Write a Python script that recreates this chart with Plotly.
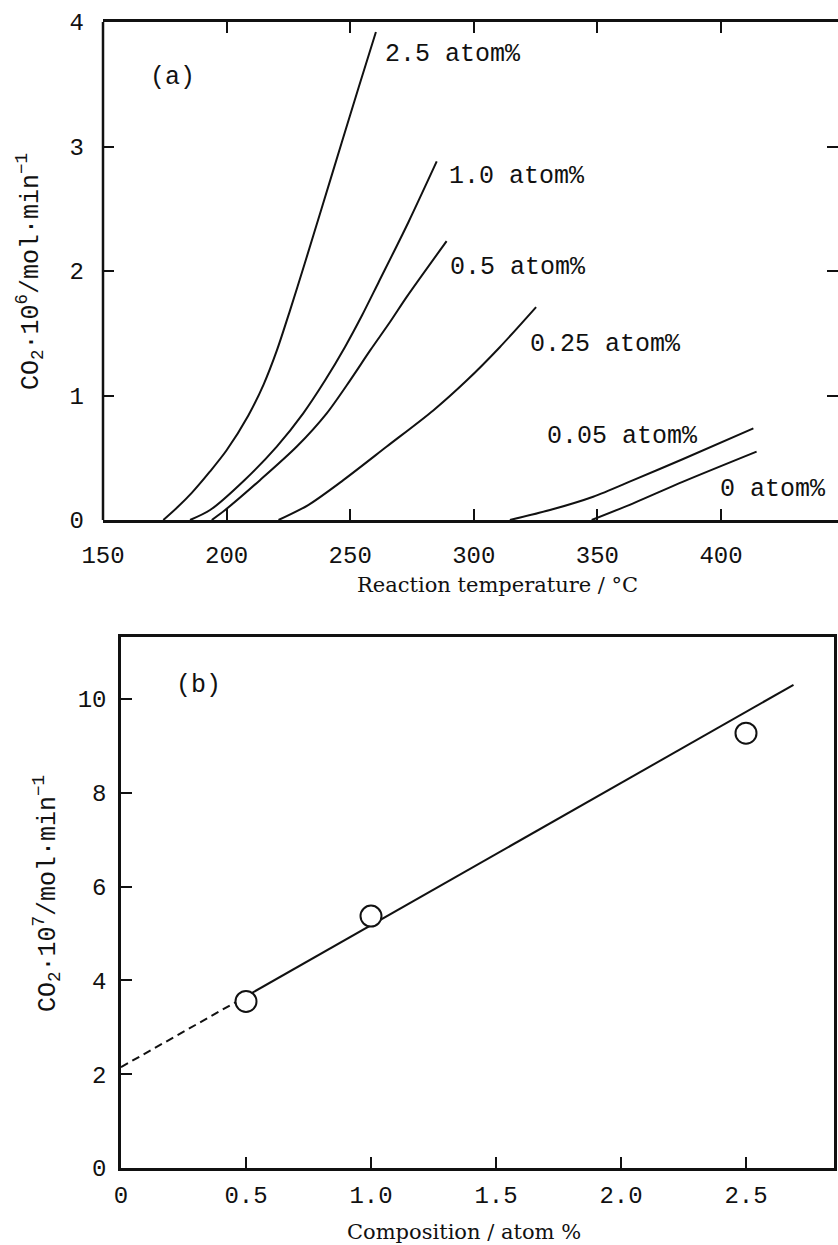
import plotly.graph_objects as go

# ---------------- (a) CO2 formation vs reaction temperature ----------------
temp_25 = [174.4, 180, 186, 193.3, 200, 208.8, 215, 220.3, 225.6, 231.6, 238.4, 246.7, 253.5, 260.4]
co2_25 = [0, 0.10, 0.22, 0.39, 0.56, 0.84, 1.09, 1.36, 1.68, 2.06, 2.50, 3.04, 3.48, 3.92]

temp_10 = [185.2, 193.3, 207.2, 220.3, 231.0, 239.8, 247.9, 254.7, 261.5, 273.5, 285.0]
co2_10 = [0, 0.08, 0.32, 0.59, 0.857, 1.12, 1.39, 1.64, 1.91, 2.39, 2.88]

temp_05 = [194.0, 199.4, 213.5, 228.4, 240.5, 249.9, 258.0, 266.1, 272.8, 289.0]
co2_05 = [0, 0.08, 0.32, 0.59, 0.857, 1.12, 1.36, 1.59, 1.79, 2.24]

temp_025 = [221.0, 233.0, 247.2, 264.8, 283.6, 297.1, 310.6, 325.2]
co2_025 = [0, 0.12, 0.32, 0.59, 0.88, 1.12, 1.39, 1.71]

temp_005 = [314.6, 330.8, 348.3, 364.5, 384.7, 413.1]
co2_005 = [0, 0.08, 0.187, 0.32, 0.49, 0.736]

temp_0 = [347.7, 364.5, 384.7, 414.4]
co2_0 = [0, 0.134, 0.308, 0.549]

curve_labels = ["2.5 atom%", "1.0 atom%", "0.5 atom%", "0.25 atom%", "0.05 atom%", "0 atom%"]
label_temp = [263.3, 289.2, 289.6, 321.9, 328.8, 398.8]
label_co2 = [3.735, 2.763, 2.032, 1.406, 0.667, 0.241]

a_xticks = [150, 200, 250, 300, 350, 400]
a_yticks = [0, 1, 2, 3, 4]

# ---------------- (b) CO2 formation vs composition ----------------
comp = [0.5, 1.0, 2.5]
co2_b = [3.55, 5.37, 9.27]
fit_dash_x = [0, 0.5]
fit_dash_y = [2.15, 3.66]
fit_solid_x = [0.5, 2.69]
fit_solid_y = [3.66, 10.30]

b_xticks = [0, 0.5, 1.0, 1.5, 2.0, 2.5]
b_xticktext = ["0", "0.5", "1.0", "1.5", "2.0", "2.5"]
b_yticks = [0, 2, 4, 6, 8, 10]

MONO = "Liberation Mono"
SERIF = "DejaVu Serif"
INK = "#111111"
W, H = 838, 1245

fig = go.Figure()

curves = [(temp_25, co2_25), (temp_10, co2_10), (temp_05, co2_05),
          (temp_025, co2_025), (temp_005, co2_005), (temp_0, co2_0)]
for (tx, ty), name in zip(curves, curve_labels):
    fig.add_trace(go.Scatter(x=tx, y=ty, mode="lines", name=name,
                             line=dict(color=INK, width=2, shape="spline", smoothing=0.8),
                             xaxis="x", yaxis="y"))

fig.add_trace(go.Scatter(x=fit_dash_x, y=fit_dash_y, mode="lines",
                         line=dict(color=INK, width=2, dash="8px,5px"),
                         xaxis="x2", yaxis="y2"))
fig.add_trace(go.Scatter(x=fit_solid_x, y=fit_solid_y, mode="lines",
                         line=dict(color=INK, width=2),
                         xaxis="x2", yaxis="y2"))
fig.add_trace(go.Scatter(x=comp, y=co2_b, mode="markers",
                         marker=dict(symbol="circle", size=21, color="white",
                                     line=dict(color=INK, width=2)),
                         xaxis="x2", yaxis="y2"))

tickfont = dict(family=MONO, size=24, color=INK)
common = dict(showgrid=False, zeroline=False, ticks="inside", ticklen=11, tickwidth=2,
              tickcolor=INK, tickfont=tickfont, linecolor=INK, linewidth=2.5,
              automargin=False)

fig.update_layout(
    width=W, height=H,
    margin=dict(l=0, r=0, t=0, b=0, autoexpand=False),
    paper_bgcolor="white", plot_bgcolor="white",
    showlegend=False,
    xaxis=dict(domain=[103 / W, 1.0], range=[150, 447.33], anchor="y",
               tickvals=a_xticks, showline=True, mirror="ticks",
               ticklabelstandoff=11, **common),
    yaxis=dict(domain=[1 - 520 / H, 1 - 22 / H], range=[0, 4], anchor="x",
               tickvals=a_yticks, showline=False, mirror="ticks",
               ticklabelstandoff=18, **common),
    xaxis2=dict(domain=[121 / W, 834 / W], range=[0, 2.852], anchor="y2",
                tickvals=b_xticks, ticktext=b_xticktext, showline=True, mirror=True,
                ticklabelstandoff=3, **common),
    yaxis2=dict(domain=[1 - 1168 / H, 1 - 637 / H], range=[0, 11.32], anchor="x2",
                tickvals=b_yticks, showline=True, mirror=True,
                ticklabelstandoff=7, **common),
)

# left frame line of panel (a) (right side is off-page, only its ticks show)
fig.add_shape(type="line", xref="x domain", yref="y domain", x0=0, x1=0, y0=0, y1=1,
              line=dict(color=INK, width=2.5))

labelfont = dict(family=MONO, size=25, color=INK)
for txt, lx, ly in zip(curve_labels, label_temp, label_co2):
    fig.add_annotation(x=lx, y=ly, xref="x", yref="y", text=txt, showarrow=False,
                       xanchor="left", yanchor="middle", font=labelfont)

fig.add_annotation(x=168, y=3.558, xref="x", yref="y", text="(a)", showarrow=False,
                   xanchor="left", yanchor="middle", font=labelfont)
fig.add_annotation(x=0.21, y=10.28, xref="x2", yref="y2", text="(b)", showarrow=False,
                   xanchor="left", yanchor="middle", font=labelfont)

# axis titles
fig.add_annotation(x=497 / W, y=1 - 585 / H, xref="paper", yref="paper",
                   text="Reaction temperature / °C", showarrow=False,
                   xanchor="center", yanchor="middle",
                   font=dict(family=SERIF, size=21, color=INK))
fig.add_annotation(x=464 / W, y=1 - 1232 / H, xref="paper", yref="paper",
                   text="Composition / atom %", showarrow=False,
                   xanchor="center", yanchor="middle",
                   font=dict(family=SERIF, size=21, color=INK))
fig.add_annotation(x=30 / W, y=1 - 272 / H, xref="paper", yref="paper",
                   text="CO<sub>2</sub>·10<sup>6</sup>/mol·min<sup>−1</sup>",
                   showarrow=False, textangle=-90, xanchor="center", yanchor="middle",
                   font=dict(family=MONO, size=25, color=INK))
fig.add_annotation(x=47 / W, y=1 - 894 / H, xref="paper", yref="paper",
                   text="CO<sub>2</sub>·10<sup>7</sup>/mol·min<sup>−1</sup>",
                   showarrow=False, textangle=-90, xanchor="center", yanchor="middle",
                   font=dict(family=MONO, size=25, color=INK))

fig.write_html(
    "out.html",
    config={"displayModeBar": False},
    post_script="document.body.style.margin='0';document.body.style.overflow='hidden';",
)
